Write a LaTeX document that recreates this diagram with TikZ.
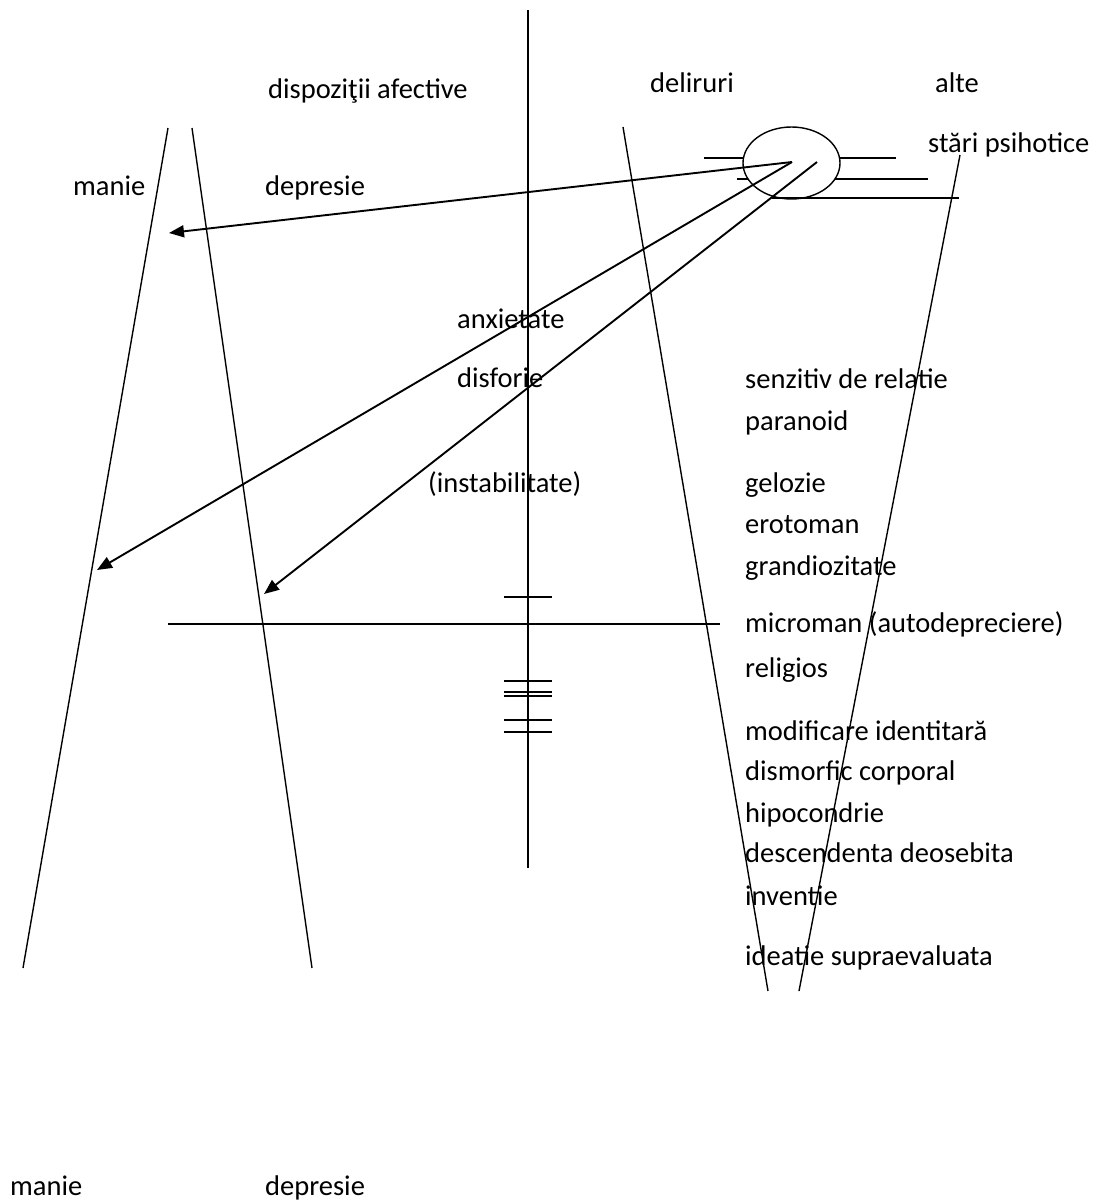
\documentclass[tikz,border=0pt]{standalone}
\usepackage{fontspec}
\setmainfont{Carlito}
\usetikzlibrary{arrows.meta,shapes.geometric}
\tikzset{
  lbl/.style={anchor=base west,inner sep=0pt,font=\fontsize{28.5}{34}\selectfont},
  ln/.style={line width=1.4pt,line cap=butt},
  arr/.style={line width=1.9pt,-{Triangle[length=15pt,width=12pt]}},
  tick/.style={line width=1.4pt}
}
\begin{document}
\begin{tikzpicture}[x=1pt,y=-1pt]
\useasboundingbox (0,0) rectangle (1112,1203);
% texts
\node[lbl] (dispo) at (268,98) {dispoziţii afective};
\node[lbl] (delir) at (650,92) {deliruri};
\node[lbl] (alte) at (935,92) {alte};
\node[lbl] (stari) at (928,152) {stări psihotice};
\node[lbl] (manie) at (73,195) {manie};
\node[lbl] (depr) at (265,195) {depresie};
\node[lbl] (anx) at (457,328) {anxietate};
\node[lbl] (disf) at (457,387) {disforie};
\node[lbl] (senz) at (745,388) {senzitiv de relatie};
\node[lbl] (para) at (745,430) {paranoid};
\node[lbl] (inst) at (428,492) {(instabilitate)};
\node[lbl] (gel) at (745,492) {gelozie};
\node[lbl] (erot) at (745,533) {erotoman};
\node[lbl] (grand) at (745,575) {grandiozitate};
\node[lbl] (micro) at (745,632) {microman (autodepreciere)};
\node[lbl] (relig) at (745,677) {religios};
\node[lbl] (modif) at (745,740) {modificare identitară};
\node[lbl] (dism) at (745,780) {dismorfic corporal};
\node[lbl] (hipo) at (745,822) {hipocondrie};
\node[lbl] (desc) at (745,862) {descendenta deosebita};
\node[lbl] (inv) at (745,905) {inventie};
\node[lbl] (idea) at (745,965) {ideatie supraevaluata};
\node[lbl] (manieb) at (10,1195) {manie};
\node[lbl] (deprb) at (265,1195) {depresie};
% axis
\coordinate (axT) at (528,10);
\coordinate (axB) at (528,868);
\draw[ln] (axT) -- (axB);
% left funnel
\coordinate (lf1t) at (168,128);
\coordinate (lf1b) at (23,968);
\coordinate (lf2t) at (192,128);
\coordinate (lf2b) at (312,968);
\draw[ln] (lf1t) -- (lf1b);
\draw[ln] (lf2t) -- (lf2b);
% right funnel
\coordinate (rf1t) at (623,127);
\coordinate (rf1b) at (768,991);
\coordinate (rf2t) at (960,155);
\coordinate (rf2b) at (799,991);
\draw[ln] (rf1t) -- (rf1b);
\draw[ln] (rf2t) -- (rf2b);
% horizontal line
\coordinate (hL) at (168,624);
\coordinate (hR) at (720,624);
\draw[ln] (hL) -- (hR);
% ticks
\foreach \yy/\nm in {597/t1,681/t2,692/t3,696/t4,720/t5,732/t6}{
  \coordinate (\nm a) at (504,\yy);
  \coordinate (\nm b) at (552,\yy);
  \draw[tick] (\nm a) -- (\nm b);
}
% ellipse
\node[draw,ellipse,line width=1.4pt,minimum width=97pt,minimum height=72pt,inner sep=0pt] (ell) at (791.5,163) {};
\coordinate (e1a) at (704,158); \coordinate (e1b) at (743.5,158);
\coordinate (e1c) at (839.5,158); \coordinate (e1d) at (896,158);
\draw[ln] (e1a) -- (e1b); \draw[ln] (e1c) -- (e1d);
\coordinate (e2a) at (737,179); \coordinate (e2b) at (748,179);
\coordinate (e2c) at (835,179); \coordinate (e2d) at (928,179);
\draw[ln] (e2a) -- (e2b); \draw[ln] (e2c) -- (e2d);
\coordinate (e3a) at (772,198); \coordinate (e3b) at (959,198);
\draw[ln] (e3a) -- (e3b);
% arrows
\coordinate (s1) at (792,162);
\coordinate (s2) at (817,162);
\coordinate (a1) at (169,233);
\coordinate (a2) at (97,570);
\coordinate (a3) at (264,594);
\draw[arr] (s1) -- (a1);
\draw[arr] (s1) -- (a2);
\draw[arr] (s2) -- (a3);
\end{tikzpicture}
\end{document}
